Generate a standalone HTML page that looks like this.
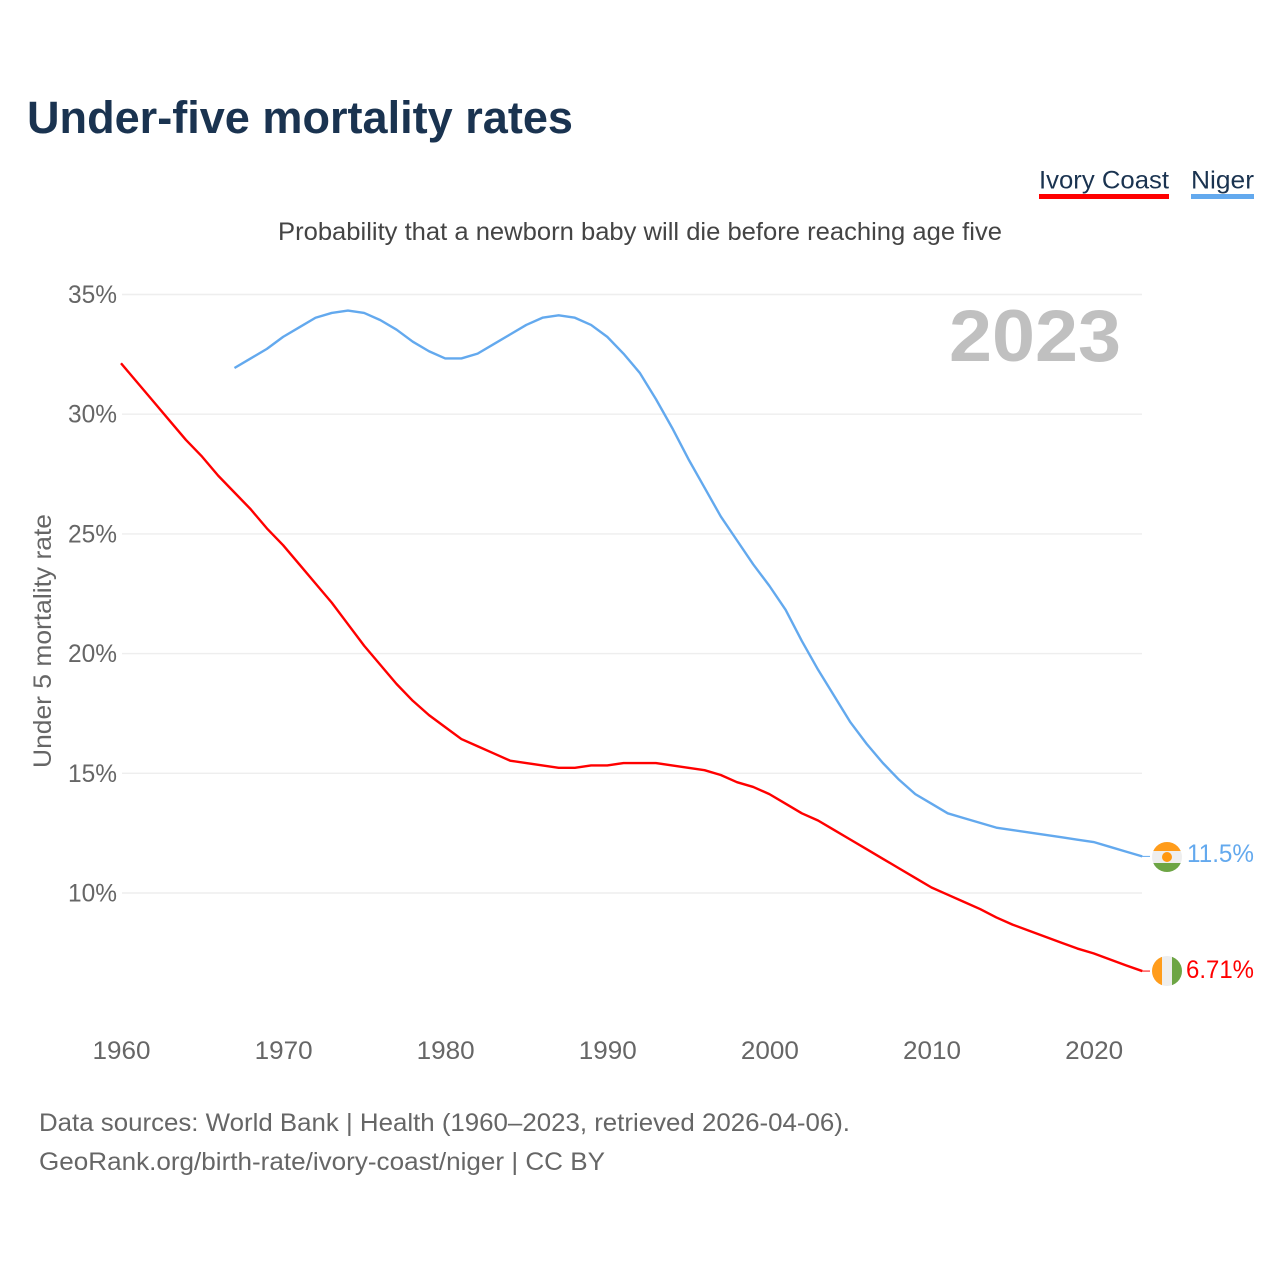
<!DOCTYPE html>
<html lang="en">
<head>
<meta charset="utf-8">
<title>Under-five mortality rates</title>
<style>
html,body{margin:0;padding:0;background:#fff;}
svg{display:block;font-family:"Liberation Sans",sans-serif;}
</style>
</head>
<body>
<svg id="chart" width="1280" height="1280" viewBox="0 0 1280 1280" xmlns="http://www.w3.org/2000/svg">
<rect x="0" y="0" width="1280" height="1280" fill="#ffffff"/>
<text x="27" y="133" font-size="45" font-weight="700" fill="#1a3350" textLength="546" lengthAdjust="spacingAndGlyphs">Under-five mortality rates</text>
<text x="278" y="240" font-size="25" fill="#444444" textLength="724" lengthAdjust="spacingAndGlyphs">Probability that a newborn baby will die before reaching age five</text>
<g>
<text x="1039" y="188.5" font-size="25" fill="#1a3350" textLength="130" lengthAdjust="spacingAndGlyphs">Ivory Coast</text>
<rect x="1039" y="194" width="130" height="5" fill="#ff0000"/>
</g>
<g>
<text x="1191" y="188.5" font-size="25" fill="#1a3350" textLength="63" lengthAdjust="spacingAndGlyphs">Niger</text>
<rect x="1191" y="194" width="63" height="5" fill="#63a9ee"/>
</g>
<text x="949" y="361" font-size="73" font-weight="700" fill="#c0c0c0" textLength="172" lengthAdjust="spacingAndGlyphs">2023</text>
<text transform="translate(51,768) rotate(-90)" font-size="25" fill="#666666" textLength="254" lengthAdjust="spacingAndGlyphs">Under 5 mortality rate</text>
<g id="grid"></g>
<g id="yticks"></g>
<g id="xticks"></g>
<g id="series"></g>
<defs>
<clipPath id="clip-flag-niger"><circle id="niger-clip-circle" cx="1167" cy="857" r="15"/></clipPath>
<clipPath id="clip-flag-ivory"><circle id="ivory-clip-circle" cx="1167" cy="971" r="15"/></clipPath>
</defs>
<g id="flag-niger" clip-path="url(#clip-flag-niger)">
<rect x="1152" y="842" width="30" height="30" fill="#eeeeee"/>
<rect x="1152" y="842" width="30" height="9" fill="#ff9c1b"/>
<rect x="1152" y="863" width="30" height="9" fill="#6da544"/>
<circle cx="1167" cy="857" r="5" fill="#ff9811"/>
</g>
<g id="flag-ivory" clip-path="url(#clip-flag-ivory)">
<rect x="1152" y="956" width="30" height="30" fill="#eeeeee"/>
<rect x="1152" y="956" width="10" height="30" fill="#ff9c1b"/>
<rect x="1172" y="956" width="10" height="30" fill="#6da544"/>
</g>
<text x="1187" y="862" font-size="25" fill="#63a9ee" textLength="67" lengthAdjust="spacingAndGlyphs">11.5%</text>
<text x="1186" y="978" font-size="25" fill="#ff0000" textLength="68" lengthAdjust="spacingAndGlyphs">6.71%</text>
<text x="39" y="1131" font-size="25" fill="#666666" textLength="811" lengthAdjust="spacingAndGlyphs">Data sources: World Bank | Health (1960–2023, retrieved 2026-04-06).</text>
<text x="39" y="1170" font-size="25" fill="#666666" textLength="566" lengthAdjust="spacingAndGlyphs">GeoRank.org/birth-rate/ivory-coast/niger | CC BY</text>
</svg>
<script>
const yTickValues = [10, 15, 20, 25, 30, 35];
const xTickYears = [1960, 1970, 1980, 1990, 2000, 2010, 2020];
const ivoryStartYear = 1960;
const ivoryCoastValues = [32.1,31.3,30.5,29.7,28.9,28.2,27.4,26.7,26.0,25.2,24.5,23.7,22.9,22.1,21.2,20.3,19.5,18.7,18.0,17.4,16.9,16.4,16.1,15.8,15.5,15.4,15.3,15.2,15.2,15.3,15.3,15.4,15.4,15.4,15.3,15.2,15.1,14.9,14.6,14.4,14.1,13.7,13.3,13.0,12.6,12.2,11.8,11.4,11.0,10.6,10.2,9.9,9.6,9.3,8.95,8.65,8.4,8.15,7.9,7.65,7.45,7.2,6.95,6.71];
const nigerStartYear = 1967;
const nigerValues = [31.9,32.3,32.7,33.2,33.6,34.0,34.2,34.3,34.2,33.9,33.5,33.0,32.6,32.3,32.3,32.5,32.9,33.3,33.7,34.0,34.1,34.0,33.7,33.2,32.5,31.7,30.6,29.4,28.1,26.9,25.7,24.7,23.7,22.8,21.8,20.5,19.3,18.2,17.1,16.2,15.4,14.7,14.1,13.7,13.3,13.1,12.9,12.7,12.6,12.5,12.4,12.3,12.2,12.1,11.9,11.7,11.5];

const NS = 'http://www.w3.org/2000/svg';
function xScale(year) { return 121 + (year - 1960) * 16.21; }
function yScale(v) { return 893 - (v - 10) * 23.94; }
function make(tag, attrs, parent, text) {
  const el = document.createElementNS(NS, tag);
  for (const k in attrs) el.setAttribute(k, attrs[k]);
  if (text !== undefined) el.textContent = text;
  parent.appendChild(el);
  return el;
}
const grid = document.getElementById('grid');
const yticks = document.getElementById('yticks');
const xticks = document.getElementById('xticks');
const seriesG = document.getElementById('series');

yTickValues.forEach(function (v) {
  const line = make('line', {x1: 122, x2: 1142, y1: yScale(v), y2: yScale(v), stroke: '#eeeeee', 'stroke-width': 1.4}, grid);
  
  
  const t = make('text', {x: 68, y: yScale(v) + 8.5, 'font-size': 25, fill: '#666666', textLength: 49, lengthAdjust: 'spacingAndGlyphs'}, yticks, v + '%');
  
  
});
xTickYears.forEach(function (yr) {
  const t = make('text', {x: xScale(yr) + 0.5, y: 1059, 'font-size': 25, fill: '#666666', 'text-anchor': 'middle', textLength: 58, lengthAdjust: 'spacingAndGlyphs'}, xticks, String(yr));
  
  
});
function pathFor(values, start) {
  return values.map(function (v, i) {
    return (i ? 'L' : 'M') + xScale(start + i).toFixed(2) + ' ' + (yScale(v) - 0.7).toFixed(2);
  }).join(' ');
}
const ivoryLine = make('path', {d: pathFor(ivoryCoastValues, ivoryStartYear), fill: 'none', stroke: '#ff0000', 'stroke-width': 2.4, 'stroke-linejoin': 'round'}, seriesG);


const nigerLine = make('path', {d: pathFor(nigerValues, nigerStartYear), fill: 'none', stroke: '#63a9ee', 'stroke-width': 2.4, 'stroke-linejoin': 'round'}, seriesG);


const ivoryLast = ivoryCoastValues[ivoryCoastValues.length - 1];
const nigerLast = nigerValues[nigerValues.length - 1];
const ivoryLeader = make('line', {x1: 1142, x2: 1150, y1: yScale(ivoryLast) - 0.7, y2: yScale(ivoryLast) - 0.7, stroke: '#ff0000', 'stroke-width': 1}, seriesG);


const nigerLeader = make('line', {x1: 1142, x2: 1150, y1: yScale(nigerLast) - 0.7, y2: yScale(nigerLast) - 0.7, stroke: '#63a9ee', 'stroke-width': 1}, seriesG);


</script>
</body>
</html>
